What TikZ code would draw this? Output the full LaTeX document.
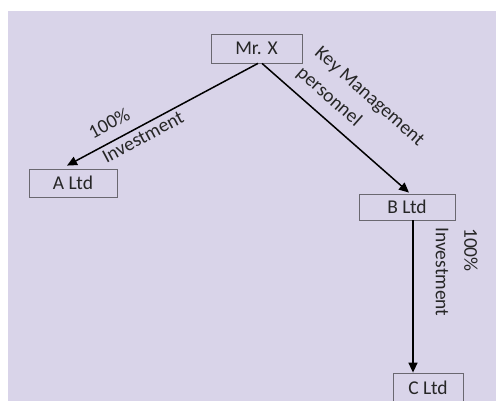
\documentclass[tikz,border=0pt]{standalone}
\usepackage{fontspec}
\setmainfont{Carlito}
\usetikzlibrary{arrows.meta,calc}
\definecolor{bg}{HTML}{D9D4E9}
\definecolor{boxline}{HTML}{6A6870}
\definecolor{txt}{HTML}{262626}
\tikzset{
  entity/.style={draw=boxline, line width=0.8pt, fill=bg, minimum height=#1, inner sep=0pt, text=txt, font=\fontsize{19.5}{22}\selectfont},
  entity/.default=28pt,
  link/.style={line width=1.5pt, -{Triangle[length=10pt,width=9pt]}},
  lbl/.style={text=txt, inner sep=0pt, font=\fontsize{19.5}{22}\selectfont}
}
\begin{document}
\begin{tikzpicture}[x=1pt,y=-1pt]
\useasboundingbox (0,0) rectangle (496,401);
\clip (0,0) rectangle (496,401);
\fill[bg] (8,11) rectangle (497,402);
\node[entity=29pt, minimum width=91pt] (mrx) at (256.5,48.5) {Mr. X};
\node[entity=28pt, minimum width=88pt] (altd) at (73,183) {A Ltd};
\node[entity=26pt, minimum width=96pt] (bltd) at (407,207) {B Ltd};
\node[entity=30pt, minimum width=70pt] (cltd) at (428,388) {C Ltd};
\draw[link] ($(mrx.south)+(1.5,0)$) -- ($(altd.north)+(-6,-3)$);
\draw[link] ($(mrx.south)+(5.5,0)$) -- ($(bltd.north)+(2,-1)$);
\draw[link] ($(bltd.south)+(6,0)$) -- ($(cltd.north)+(-15,0)$);
\node[lbl, rotate=28] (l1) at (109,123) {100\%};
\node[lbl, rotate=28] (l2) at (143,137) {Investment};
\node[lbl, rotate=-41.5] (l3) at (369,97) {Key Management};
\node[lbl, rotate=-41.5] (l4) at (329,97) {personnel};
\node[lbl, rotate=-90] (l5) at (442,272) {Investment};
\node[lbl, rotate=-90] (l6) at (471,250) {100\%};
\end{tikzpicture}
\end{document}
